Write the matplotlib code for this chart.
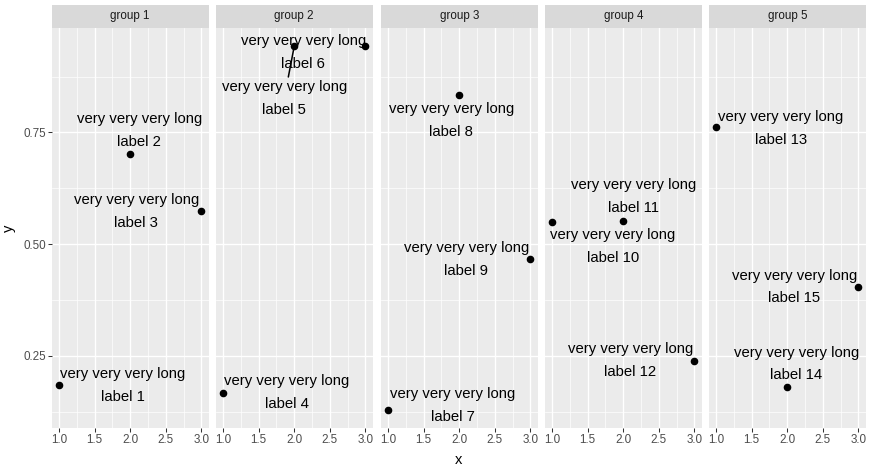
import matplotlib.pyplot as plt
import numpy as np
from matplotlib.ticker import MultipleLocator

plt.rcParams['font.family'] = ['Liberation Sans', 'DejaVu Sans']

# data
groups = ['group 1', 'group 2', 'group 3', 'group 4', 'group 5']
group_idx = [0, 0, 0, 1, 1, 1, 2, 2, 2, 3, 3, 3, 4, 4, 4]
x = [1, 2, 3, 1, 2, 3, 1, 2, 3, 1, 2, 3, 1, 2, 3]
y = [0.185, 0.701, 0.573, 0.167, 0.943, 0.943, 0.129, 0.833, 0.466,
     0.550, 0.552, 0.239, 0.761, 0.180, 0.404]
labels = ['very very very long\nlabel %d' % i for i in range(1, 16)]

# repelled label offsets (pixels, text centre relative to point)
label_offsets = [(64, -1), (9, 24), (-65, 0), (64, 0), (-10, -52), (-62, -6),
                 (65, 4), (-8, -25), (-64, 0), (61, -25), (10, 24), (-64, 0),
                 (65, -1), (9, 23), (-64, 0)]

W, H = 873, 471
fig = plt.figure(figsize=(W / 100, H / 100), dpi=100)

panel_left = [52, 216, 381, 545, 709]
panel_w = 156.5
panel_top, panel_bot = 28, 428
strip_top = 5

ymin, ymax = min(y), max(y)
pad = (ymax - ymin) * 0.05
ylim = (ymin - pad, ymax + pad)

axes = []
for k, g in enumerate(groups):
    ax = fig.add_axes([panel_left[k] / W, 1 - panel_bot / H,
                       panel_w / W, (panel_bot - panel_top) / H])
    ax.set_facecolor('#EBEBEB')
    for s in ax.spines.values():
        s.set_visible(False)
    ax.set_xlim(0.9, 3.1)
    ax.set_ylim(*ylim)
    ax.xaxis.set_minor_locator(MultipleLocator(0.25))
    ax.yaxis.set_minor_locator(MultipleLocator(0.125))
    ax.set_xticks([1.0, 1.5, 2.0, 2.5, 3.0])
    ax.set_xticklabels(['1.0', '1.5', '2.0', '2.5', '3.0'])
    ax.set_yticks([0.25, 0.5, 0.75])
    ax.set_yticklabels(['0.25', '0.50', '0.75'])
    ax.grid(which='major', color='white', lw=1.0)
    ax.grid(which='minor', color='white', lw=0.5)
    ax.set_axisbelow(True)
    ax.tick_params(which='major', length=2.7, width=0.75, color='#333333',
                   labelsize=8.4, labelcolor='#4D4D4D', pad=1.5)
    ax.tick_params(which='minor', length=0)
    if k > 0:
        ax.tick_params(axis='y', which='both', left=False, labelleft=False)
    # strip
    sax = fig.add_axes([panel_left[k] / W, 1 - panel_top / H,
                        panel_w / W, (panel_top - strip_top) / H])
    sax.set_facecolor('#D9D9D9')
    sax.set_xticks([])
    sax.set_yticks([])
    for s in sax.spines.values():
        s.set_visible(False)
    sax.text(0.5, 0.5, g, ha='center', va='center', fontsize=8.4,
             color='#1A1A1A', transform=sax.transAxes)
    axes.append(ax)

for i in range(len(x)):
    ax = axes[group_idx[i]]
    ax.scatter(x[i], y[i], s=20, color='black', zorder=3, clip_on=False)
    dx, dy = label_offsets[i]
    arrow = None
    if abs(dy) > 40:
        arrow = dict(arrowstyle='-', color='black', lw=1.1,
                     shrinkA=0, shrinkB=2)
    ax.annotate(labels[i], (x[i], y[i]), xytext=(dx, dy),
                textcoords='offset pixels', ha='center', va='center',
                multialignment='center', fontsize=10.7, linespacing=1.8,
                color='black', arrowprops=arrow, zorder=4)

fig.text(459 / W, 1 - 460 / H, 'x', ha='center', va='center', fontsize=10.6,
         color='black')
fig.text(9 / W, 1 - 228 / H, 'y', ha='center', va='center', fontsize=10.6,
         color='black', rotation=90)

fig.savefig('out.png', dpi=100, facecolor='white')
